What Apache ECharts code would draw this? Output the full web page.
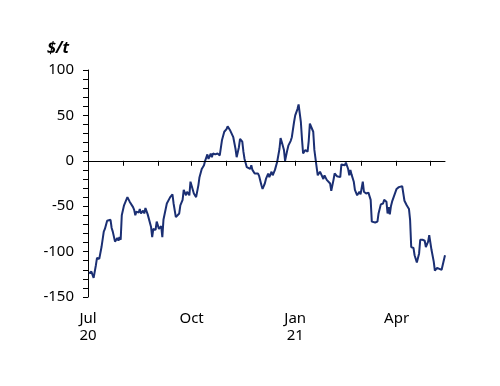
<!DOCTYPE html>
<html>
<head>
<meta charset="utf-8">
<script src="https://cdn.jsdelivr.net/npm/echarts@6/dist/echarts.min.js"></script>
<style>html,body{margin:0;padding:0;background:#fff}#c{width:500px;height:386px}</style>
</head>
<body>
<div id="c"></div>
<script>
var startDate = '2020-07-01';
var endDate = '2021-05-14';
var yTickLabels = [-150, -100, -50, 0, 50, 100];
var xTickLabels = {'2020-07-01': 'Jul\n20', '2020-10-01': 'Oct', '2021-01-01': 'Jan\n21', '2021-04-01': 'Apr'};
var obsDates = [
'2020-07-02','2020-07-04','2020-07-06','2020-07-08','2020-07-09','2020-07-11','2020-07-13','2020-07-15','2020-07-16','2020-07-18',
'2020-07-21','2020-07-22','2020-07-23','2020-07-25','2020-07-27','2020-07-28','2020-07-29','2020-07-30','2020-07-31','2020-08-02',
'2020-08-05','2020-08-07','2020-08-10','2020-08-11','2020-08-12','2020-08-13','2020-08-15','2020-08-16','2020-08-17','2020-08-19',
'2020-08-20','2020-08-21','2020-08-23','2020-08-26','2020-08-27','2020-08-28','2020-08-30','2020-08-31','2020-09-02','2020-09-04',
'2020-09-05','2020-09-06','2020-09-09','2020-09-10','2020-09-12','2020-09-14','2020-09-15','2020-09-17','2020-09-20','2020-09-21',
'2020-09-23','2020-09-24','2020-09-26','2020-09-27','2020-09-29','2020-09-30','2020-10-01','2020-10-03','2020-10-05','2020-10-07',
'2020-10-08','2020-10-10','2020-10-12','2020-10-13','2020-10-15','2020-10-16','2020-10-18','2020-10-19','2020-10-20','2020-10-22',
'2020-10-24','2020-10-26','2020-10-27','2020-10-28','2020-10-30','2020-11-01','2020-11-02','2020-11-04','2020-11-05','2020-11-07',
'2020-11-09','2020-11-10','2020-11-12','2020-11-13','2020-11-15','2020-11-16','2020-11-17','2020-11-19','2020-11-20','2020-11-22',
'2020-11-23','2020-11-24','2020-11-26','2020-11-27','2020-11-29','2020-11-30','2020-12-02','2020-12-03','2020-12-05','2020-12-06',
'2020-12-08','2020-12-09','2020-12-11','2020-12-12','2020-12-14','2020-12-15','2020-12-16','2020-12-18','2020-12-19','2020-12-20',
'2020-12-22','2020-12-23','2020-12-25','2020-12-26','2020-12-28','2020-12-29','2020-12-31','2021-01-01','2021-01-03','2021-01-04',
'2021-01-06','2021-01-07','2021-01-08','2021-01-10','2021-01-12','2021-01-13','2021-01-14','2021-01-15','2021-01-17','2021-01-18',
'2021-01-20','2021-01-21','2021-01-23','2021-01-24','2021-01-26','2021-01-27','2021-01-29','2021-01-30','2021-02-01','2021-02-02',
'2021-02-04','2021-02-05','2021-02-07','2021-02-10','2021-02-11','2021-02-12','2021-02-14','2021-02-15','2021-02-17','2021-02-18',
'2021-02-19','2021-02-20','2021-02-22','2021-02-23','2021-02-25','2021-02-27','2021-02-28','2021-03-02','2021-03-03','2021-03-05',
'2021-03-07','2021-03-09','2021-03-10','2021-03-13','2021-03-15','2021-03-16','2021-03-18','2021-03-20','2021-03-21','2021-03-23',
'2021-03-24','2021-03-25','2021-03-26','2021-03-27','2021-03-28','2021-03-29','2021-04-01','2021-04-03','2021-04-06','2021-04-08',
'2021-04-10','2021-04-12','2021-04-13','2021-04-14','2021-04-16','2021-04-17','2021-04-19','2021-04-21','2021-04-22','2021-04-24',
'2021-04-26','2021-04-27','2021-04-29','2021-04-30','2021-05-02','2021-05-04','2021-05-05','2021-05-07','2021-05-09','2021-05-11',
'2021-05-12','2021-05-14'
];
var obsValues = [
-124,-122,-129,-115,-107,-108,-95,-78,-75,-66,
-65,-74,-78,-89,-85,-88,-84,-87,-60,-49,
-40,-45,-51,-54,-60,-56,-57,-53,-58,-55,
-58,-52,-59,-73,-84,-75,-76,-67,-75,-72,
-84,-65,-47,-45,-40,-37,-47,-62,-58,-49,
-43,-32,-38,-34,-38,-23,-21,-36,-40,-27,
-18,-9,-5,0,7,2,8,4,8,7,
8,6,7,23,32,35,38,34,35,26,
13,4,15,24,21,10,2,-7,-5,-9,
-5,-10,-14,-16,-14,-17,-27,-31,-25,-20,
-14,-18,-12,-16,-10,-12,-1,13,25,21,
12,0,12,17,22,26,43,50,57,62,
43,24,8,12,10,22,41,39,32,12,
-7,-16,-12,-10,-20,-16,-21,-23,-25,-33,
-21,-14,-17,-18,-4,-6,-5,-2,-9,-16,
-10,-15,-23,-32,-38,-34,-37,-23,-34,-36,
-35,-43,-67,-68,-67,-58,-48,-47,-43,-45,
-58,-51,-59,-50,-45,-44,-31,-29,-28,-44,
-49,-53,-65,-95,-96,-104,-112,-102,-87,-87,
-88,-95,-89,-82,-98,-111,-121,-118,-119,-120,
-121,-104
];

function fmt(d){
  var m = d.getUTCMonth()+1, day = d.getUTCDate();
  return d.getUTCFullYear()+'-'+(m<10?'0':'')+m+'-'+(day<10?'0':'')+day;
}
var categories = [];
for (var t = Date.parse(startDate+'T00:00:00Z'); t <= Date.parse(endDate+'T00:00:00Z'); t += 86400000) {
  categories.push(fmt(new Date(t)));
}
var lookup = {};
obsDates.forEach(function(d,i){ lookup[d] = obsValues[i]; });
var seriesData = categories.map(function(c){ return lookup.hasOwnProperty(c) ? lookup[c] : null; });

var FONT = 'Noto Sans';
var chart = echarts.init(document.getElementById('c'), null, {renderer:'canvas'});
chart.setOption({
  animation: false,
  backgroundColor: '#ffffff',
  grid: {left: 88, right: 55, top: 70, bottom: 89, containLabel: false},
  graphic: [{
    type: 'text', left: 47, top: 40,
    style: {text: '$/t', font: 'italic bold 16px "' + FONT + '"', fill: '#000'}
  }],
  xAxis: {
    type: 'category',
    data: categories,
    boundaryGap: false,
    axisLine: {lineStyle: {color: '#000', width: 1}},
    axisTick: {
      show: true, length: 5, lineStyle: {color: '#000', width: 1},
      interval: function(i, v){ return v.slice(8) === '01'; }
    },
    axisLabel: {
      interval: function(i, v){ return xTickLabels.hasOwnProperty(v); },
      formatter: function(v){ return xTickLabels[v] || ''; },
      color: '#000', fontFamily: FONT, fontSize: 15, lineHeight: 17, margin: 13,
      verticalAlign: 'top'
    },
    splitLine: {show: false}
  },
  yAxis: {
    type: 'value',
    min: -150, max: 100, interval: 10,
    axisLine: {show: true, lineStyle: {color: '#000', width: 1}},
    axisTick: {show: true, length: 5, lineStyle: {color: '#000', width: 1}},
    axisLabel: {
      formatter: function(v){ return yTickLabels.indexOf(v) >= 0 ? String(v) : ''; },
      color: '#000', fontFamily: FONT, fontSize: 15, margin: 14
    },
    splitLine: {show: false}
  },
  series: [{
    type: 'line',
    data: seriesData,
    connectNulls: true,
    showSymbol: false,
    symbol: 'none',
    lineStyle: {color: '#1b2f73', width: 2},
    markLine: {
      silent: true, symbol: 'none', label: {show: false},
      lineStyle: {color: '#000', width: 1.2, type: 'solid'},
      data: [{yAxis: 0}],
      animation: false
    }
  }]
});
</script>
</body>
</html>
